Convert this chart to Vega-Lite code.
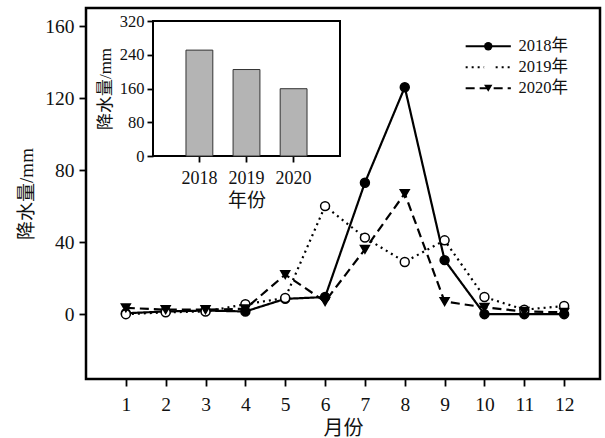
{
  "$schema": "https://vega.github.io/schema/vega-lite/v6.json",
  "background": "white",
  "padding": {"left": 16, "top": 6, "right": 0, "bottom": 0},
  "columns": 2,
  "align": "none",
  "bounds": "flush",
  "spacing": {"row": -148, "column": -447},
  "config": {
    "font": "'Liberation Serif', 'Noto Sans CJK SC', serif",
    "axis": {
      "grid": false,
      "domain": false,
      "tickColor": "black",
      "tickWidth": 1.8,
      "labelColor": "#111",
      "titleColor": "#111",
      "labelFont": "'Liberation Serif', 'Noto Sans CJK SC', serif",
      "titleFont": "'Liberation Serif', 'Noto Sans CJK SC', serif",
      "titleFontWeight": "normal"
    },
    "legend": {
      "labelFont": "'Liberation Serif', 'Noto Sans CJK SC', serif",
      "labelColor": "#111"
    }
  },
  "concat": [
    {
      "width": 1,
      "height": 1,
      "view": {"stroke": null},
      "data": {"values": [{"a": 0}]},
      "mark": {"type": "point", "opacity": 0},
      "encoding": {}
    },
    {
      "width": 187,
      "height": 135,
      "view": {"stroke": "black", "strokeWidth": 2},
      "data": {"values": [
        {"year": "2018", "p": 251},
        {"year": "2019", "p": 205},
        {"year": "2020", "p": 159.5}
      ]},
      "mark": {"type": "bar", "fill": "#b4b4b4", "stroke": "#333", "strokeWidth": 1},
      "encoding": {
        "x": {
          "field": "year", "type": "nominal",
          "scale": {"paddingInner": 0.43, "paddingOuter": 0.7},
          "axis": {"title": "年份", "labelAngle": 0, "labelFontSize": 18, "titleFontSize": 19, "tickSize": 6, "labelPadding": 7, "titlePadding": 4}
        },
        "y": {
          "field": "p", "type": "quantitative",
          "scale": {"domain": [0, 320], "nice": false},
          "axis": {"title": "降水量/mm", "values": [0, 80, 160, 240, 320], "labelFontSize": 16.5, "titleFontSize": 17, "tickSize": 6, "labelPadding": 3, "titlePadding": 5}
        }
      }
    },
    {
      "width": 514,
      "height": 371,
      "view": {"stroke": "black", "strokeWidth": 2.5},
      "data": {"values": [
        {"month": 1, "year": "2018年", "p": 0.5},
        {"month": 2, "year": "2018年", "p": 1.5},
        {"month": 3, "year": "2018年", "p": 2},
        {"month": 4, "year": "2018年", "p": 1.5},
        {"month": 5, "year": "2018年", "p": 8.5},
        {"month": 6, "year": "2018年", "p": 9.5},
        {"month": 7, "year": "2018年", "p": 73},
        {"month": 8, "year": "2018年", "p": 126},
        {"month": 9, "year": "2018年", "p": 30},
        {"month": 10, "year": "2018年", "p": 0},
        {"month": 11, "year": "2018年", "p": 0},
        {"month": 12, "year": "2018年", "p": 0},
        {"month": 1, "year": "2019年", "p": 0},
        {"month": 2, "year": "2019年", "p": 1},
        {"month": 3, "year": "2019年", "p": 1.5},
        {"month": 4, "year": "2019年", "p": 5.5},
        {"month": 5, "year": "2019年", "p": 9},
        {"month": 6, "year": "2019年", "p": 60},
        {"month": 7, "year": "2019年", "p": 42.5},
        {"month": 8, "year": "2019年", "p": 29},
        {"month": 9, "year": "2019年", "p": 41},
        {"month": 10, "year": "2019年", "p": 9.5},
        {"month": 11, "year": "2019年", "p": 2.5},
        {"month": 12, "year": "2019年", "p": 4.5},
        {"month": 1, "year": "2020年", "p": 3.5},
        {"month": 2, "year": "2020年", "p": 2.5},
        {"month": 3, "year": "2020年", "p": 2.5},
        {"month": 4, "year": "2020年", "p": 3},
        {"month": 5, "year": "2020年", "p": 22},
        {"month": 6, "year": "2020年", "p": 7},
        {"month": 7, "year": "2020年", "p": 36},
        {"month": 8, "year": "2020年", "p": 67},
        {"month": 9, "year": "2020年", "p": 7},
        {"month": 10, "year": "2020年", "p": 3.8},
        {"month": 11, "year": "2020年", "p": 1.5},
        {"month": 12, "year": "2020年", "p": 1}
      ]},
      "encoding": {
        "x": {
          "field": "month", "type": "quantitative",
          "scale": {"domain": [0, 12.9], "nice": false, "zero": false},
          "axis": {"title": "月份", "values": [1,2,3,4,5,6,7,8,9,10,11,12], "labelFontSize": 19.5, "titleFontSize": 20, "tickSize": 7, "labelPadding": 9, "titlePadding": 5, "labelFlush": false, "labelOverlap": false}
        },
        "y": {
          "field": "p", "type": "quantitative",
          "scale": {"domain": [-36, 170], "nice": false, "zero": false},
          "axis": {"title": "降水量/mm", "values": [0, 40, 80, 120, 160], "labelFontSize": 19.5, "titleFontSize": 19, "tickSize": 7, "labelPadding": 5, "titlePadding": 8}
        }
      },
      "layer": [
        {
          "mark": {"type": "line", "color": "black", "strokeWidth": 2.2},
          "encoding": {
            "strokeDash": {
              "field": "year", "type": "nominal",
              "scale": {"domain": ["2018年", "2019年", "2020年"], "range": [[1, 0], [2, 4], [9, 5]]},
              "legend": {
                "title": null, "orient": "none", "legendX": 394, "legendY": 17,
                "symbolType": "M-5.4,0H5.4", "symbolSize": 70,
                "symbolStrokeColor": "black", "symbolStrokeWidth": 2, "symbolFillColor": "transparent",
                "labelFontSize": 16.5, "labelOffset": 22, "rowPadding": 4, "padding": 0
              }
            }
          }
        },
        {
          "mark": {"type": "point", "stroke": "black", "strokeWidth": 1.5, "size": 80, "opacity": 1, "fillOpacity": 1},
          "encoding": {
            "shape": {
              "field": "year", "type": "nominal",
              "scale": {"range": ["circle", "circle", "triangle-down"]},
              "legend": {
                "title": null, "orient": "none", "legendX": 394, "legendY": 17,
                "symbolSize": 70, "symbolStrokeColor": "black", "symbolStrokeWidth": 1.5,
                "labelFontSize": 16.5, "labelOffset": 22, "rowPadding": 4, "padding": 0, "labelOpacity": 0
              }
            },
            "fill": {
              "field": "year", "type": "nominal",
              "scale": {"range": ["black", "white", "black"]},
              "legend": {
                "title": null, "orient": "none", "legendX": 394, "legendY": 17,
                "symbolSize": 70, "symbolStrokeColor": "black", "symbolStrokeWidth": 1.5,
                "labelFontSize": 16.5, "labelOffset": 22, "rowPadding": 4, "padding": 0, "labelOpacity": 0
              }
            }
          }
        }
      ]
    }
  ]
}
